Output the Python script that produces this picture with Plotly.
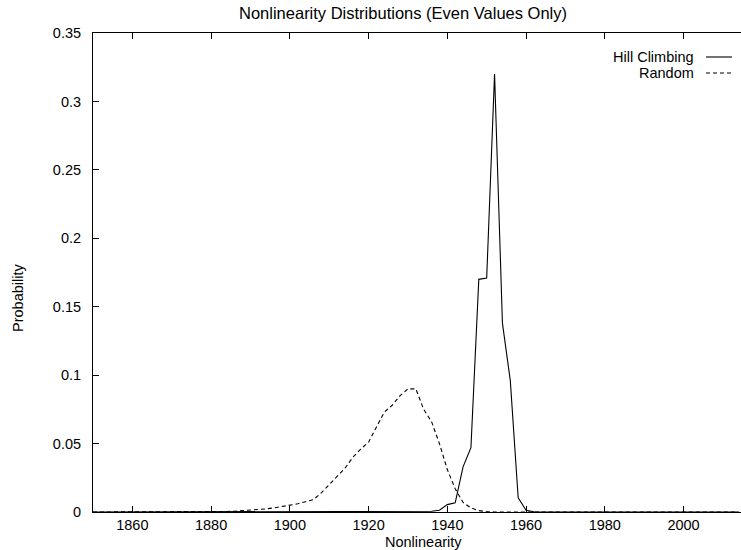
import plotly.graph_objects as go

# Nonlinearity (even values only)
hill_x = [1850, 1930, 1932, 1934, 1936, 1938, 1940, 1942, 1944, 1946, 1948, 1950,
          1952, 1954, 1956, 1958, 1960, 1962, 1964, 2014]
hill_y = [0, 0, 0.0001, 0.0003, 0.0005, 0.0013, 0.0054, 0.0067, 0.033, 0.047, 0.170, 0.171,
          0.320, 0.138, 0.096, 0.0103, 0.0013, 0.0002, 0, 0]

rand_x = [1850, 1876, 1878, 1880, 1882, 1884, 1886, 1888, 1890, 1892, 1894, 1896, 1898,
          1900, 1902, 1904, 1906, 1908, 1910, 1912, 1914, 1916, 1918, 1920, 1922, 1924,
          1926, 1928, 1930, 1932, 1934, 1936, 1938, 1940, 1942, 1944, 1946, 1948, 1950,
          1952, 2014]
rand_y = [0, 0, 0, 0.0002, 0.0003, 0.0004, 0.0006, 0.0009, 0.0012, 0.0017, 0.0023, 0.003, 0.004,
          0.0045, 0.006, 0.0075, 0.009, 0.014, 0.020, 0.026, 0.032, 0.040, 0.046, 0.051, 0.062, 0.073,
          0.078, 0.085, 0.090, 0.090, 0.075, 0.066, 0.050, 0.031, 0.017, 0.007, 0.003, 0.001, 0.0003,
          0, 0]

x_ticks = [1860, 1880, 1900, 1920, 1940, 1960, 1980, 2000]
y_ticks = [0, 0.05, 0.1, 0.15, 0.2, 0.25, 0.3, 0.35]
y_tick_labels = ["0", "0.05", "0.1", "0.15", "0.2", "0.25", "0.3", "0.35"]

FONT = "Liberation Sans, Arial, Helvetica, sans-serif"
FS = 14.5

fig = go.Figure()
fig.add_trace(go.Scatter(x=hill_x, y=hill_y, mode="lines", name="Hill Climbing",
                         line=dict(color="black", width=1.1), showlegend=False))
fig.add_trace(go.Scatter(x=rand_x, y=rand_y, mode="lines", name="Random",
                         line=dict(color="black", width=1.1, dash="4px,3px"), showlegend=False))

W, H = 741, 550
L, R, T, B = 93, 0, 33, 38
pw, ph = W - L - R, H - T - B

def px(xp):
    return (xp - L) / pw

def py(yp):
    return 1 - (yp - T) / ph

fig.update_layout(
    width=W, height=H,
    margin=dict(l=L, r=R, t=T, b=B),
    paper_bgcolor="white", plot_bgcolor="white",
    font=dict(family=FONT, size=FS, color="black"),
    xaxis=dict(range=[1850, 2014.6], tickvals=x_ticks, ticks="inside", ticklen=6,
               tickcolor="black", showline=True, linecolor="black", linewidth=1,
               mirror="ticks", showgrid=False, zeroline=False, ticklabelstandoff=0,
               tickfont=dict(size=FS)),
    yaxis=dict(range=[0, 0.35], tickvals=y_ticks, ticktext=y_tick_labels, ticks="inside",
               ticklen=6, tickcolor="black", showline=True, linecolor="black", linewidth=1,
               mirror=False, showgrid=False, zeroline=False, ticklabelstandoff=8,
               tickfont=dict(size=FS)),
)

# title, axis labels
fig.add_annotation(text="Nonlinearity Distributions (Even Values Only)", x=px(403), y=py(13),
                   xref="paper", yref="paper", showarrow=False, font=dict(size=16.5),
                   xanchor="center", yanchor="middle")
fig.add_annotation(text="Nonlinearity", x=px(423), y=py(541.5), xref="paper", yref="paper",
                   showarrow=False, font=dict(size=FS), xanchor="center", yanchor="middle",
                   borderpad=0)
fig.add_annotation(text="Probability", x=px(18), y=py(298), xref="paper", yref="paper",
                   textangle=-90, showarrow=False, font=dict(size=FS),
                   xanchor="center", yanchor="middle")

# legend (gnuplot-style: text right aligned, sample to the right)
for i, (label, dash) in enumerate([("Hill Climbing", "solid"), ("Random", "4px,3px")]):
    yy = 57 + i * 16
    fig.add_annotation(text=label, x=px(696), y=py(yy), xref="paper", yref="paper",
                       xanchor="right", yanchor="middle", showarrow=False, font=dict(size=FS))
    fig.add_shape(type="line", xref="paper", yref="paper", x0=px(706), x1=px(732),
                  y0=py(yy), y1=py(yy), line=dict(color="black", width=1.1, dash=dash))

fig.write_html("out.html", config={"displayModeBar": False},
               post_script="document.body.style.margin='0px';"
                           "document.body.style.overflow='hidden';")
